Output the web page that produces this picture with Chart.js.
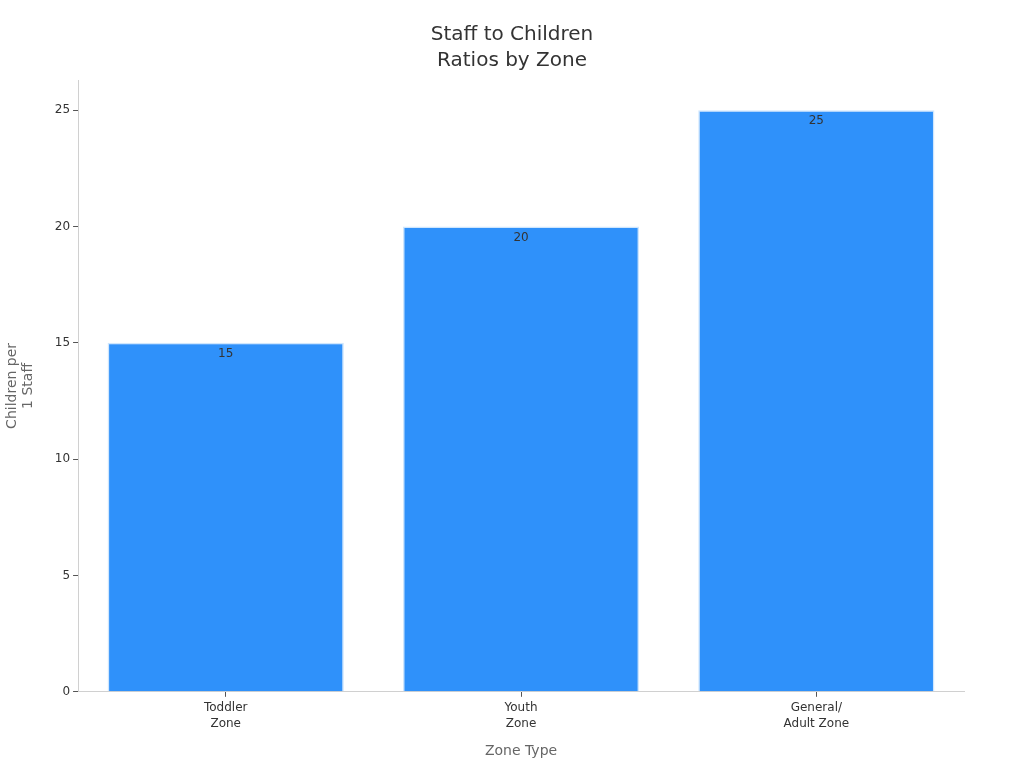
<!DOCTYPE html>
<html>
<head>
<meta charset="utf-8">
<script src="https://cdn.jsdelivr.net/npm/chart.js@4/dist/chart.umd.min.js"></script>
<style>
  html, body { margin: 0; padding: 0; background: #fff; }
  #wrap { width: 1024px; height: 768px; }
</style>
</head>
<body>
<div id="wrap"><canvas id="ratioChart"></canvas></div>
<script>
var zones = [["Toddler", "Zone"], ["Youth", "Zone"], ["General/", "Adult Zone"]];
var childrenPerStaff = [15, 20, 25];
var yTicks = [0, 5, 10, 15, 20, 25];

// draw the value just under the top of each bar
var barValues = {
    id: 'barValues',
    afterDatasetsDraw: function (chart) {
        var ctx = chart.ctx;
        var meta = chart.getDatasetMeta(0);
        ctx.save();
        ctx.font = '12px "DejaVu Sans", sans-serif';
        ctx.fillStyle = '#333';
        ctx.textAlign = 'center';
        ctx.textBaseline = 'top';
        meta.data.forEach(function (bar, i) {
            ctx.fillText(chart.data.datasets[0].data[i], bar.x, bar.y + 5);
        });
        ctx.restore();
    }
};

var ratioChart = new Chart(document.getElementById('ratioChart'), {
    type: 'bar',
    data: {
        labels: zones,
        datasets: [{
            data: childrenPerStaff,
            backgroundColor: '#2f91fa',
            borderColor: '#cfe6fd',
            borderWidth: 1.5,
            barPercentage: 0.8,
            categoryPercentage: 1.0
        }]
    },
    options: {
        responsive: true,
        maintainAspectRatio: false,
        animation: false,
        layout: { padding: { left: 0, right: 0, top: 12, bottom: 4 } },
        plugins: {
            legend: { display: false },
            tooltip: { enabled: false },
            title: {
                display: true,
                text: ['Staff to Children', 'Ratios by Zone'],
                color: '#333',
                font: { family: '"DejaVu Sans", sans-serif', size: 20, weight: 'normal', lineHeight: 1.3 },
                padding: { top: 10, bottom: 6 }
            }
        },
        scales: {
            x: {
                grid: { display: true, offset: false, drawOnChartArea: false, drawTicks: true, tickLength: 5, tickColor: '#555' },
                border: { color: '#d0d0d0' },
                ticks: {
                    color: '#333',
                    font: { family: '"DejaVu Sans", sans-serif', size: 12, lineHeight: 1.35 },
                    padding: 3
                },
                title: {
                    display: true,
                    text: 'Zone Type',
                    color: '#666',
                    font: { family: '"DejaVu Sans", sans-serif', size: 14 },
                    padding: { top: 8 }
                }
            },
            y: {
                min: 0,
                max: 26.3,
                afterBuildTicks: function (axis) {
                    axis.ticks = yTicks.map(function (v) { return { value: v }; });
                },
                grid: { display: true, drawOnChartArea: false, drawTicks: true, tickLength: 5, tickColor: '#555' },
                border: { color: '#d0d0d0' },
                ticks: {
                    color: '#333',
                    font: { family: '"DejaVu Sans", sans-serif', size: 12 },
                    padding: 3
                },
                title: {
                    display: true,
                    text: ['Children per', '1 Staff'],
                    color: '#666',
                    font: { family: '"DejaVu Sans", sans-serif', size: 14, lineHeight: 1.1 },
                    padding: { top: 5, bottom: 16 }
                }
            },
            // empty right-hand strip so the plot stops short of the edge
            spacer: {
                type: 'linear',
                position: 'right',
                grid: { display: false },
                border: { display: false },
                ticks: { display: false },
                afterFit: function (axis) { axis.width = 60; }
            }
        }
    },
    plugins: [barValues]
});
</script>
</body>
</html>
